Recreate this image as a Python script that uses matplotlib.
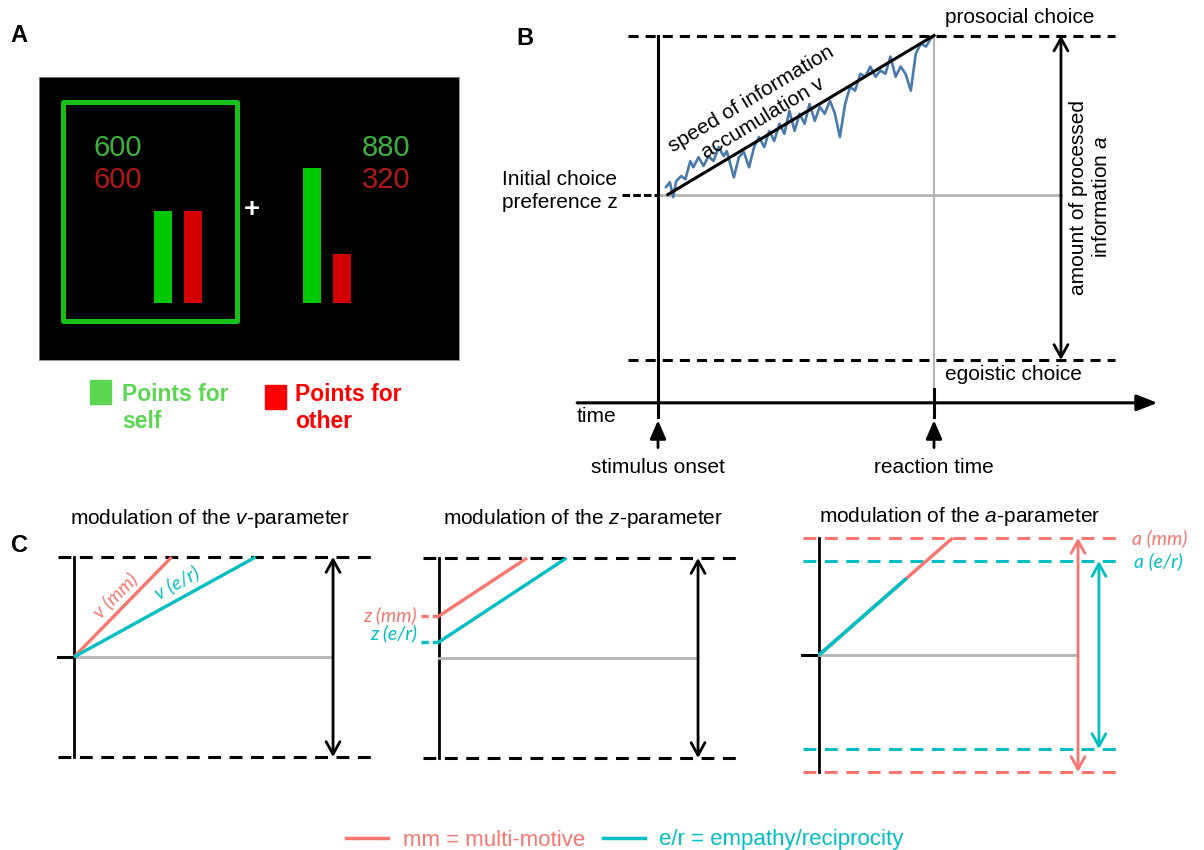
import matplotlib
matplotlib.use("Agg")
import matplotlib.pyplot as plt
from matplotlib.patches import Rectangle
from matplotlib.lines import Line2D

W, H = 1204, 850

plt.rcParams['font.family'] = ['Liberation Sans', 'DejaVu Sans']
plt.rcParams['mathtext.fontset'] = 'custom'
plt.rcParams['mathtext.it'] = 'Liberation Sans:italic'
plt.rcParams['mathtext.rm'] = 'Liberation Sans'

RED = '#F8766D'
CYAN = '#00BFC4'
GREY = '#B4B4B4'
TRACE = '#4A7AAB'

# ---- data ----
# A: points for self / other in the two options
left_option = [600, 600]
right_option = [880, 320]

# B: one accumulation path (% of reaction time, % of boundary a)
trace_t = [2.9, 4.3, 5.5, 6.6, 8.4, 9.9, 11.7, 12.8, 14.7, 16.5,
           18.3, 20.1, 22.0, 23.8, 24.9, 27.5, 29.3, 31.1, 33.0, 34.8,
           36.6, 38.5, 40.3, 42.1, 44.0, 45.8, 47.6, 49.5, 51.3, 53.1,
           54.9, 56.8, 58.6, 60.4, 62.3, 64.1, 65.9, 67.8, 69.6, 71.4,
           73.3, 75.1, 76.9, 78.8, 80.6, 82.4, 84.2, 86.1, 87.9, 89.7,
           91.6, 93.4, 95.2, 97.1, 98.9, 100]
trace_e = [53.3, 54.8, 50.2, 55.1, 56.7, 55.7, 61.3, 59.4, 62.5, 59.8,
           62.8, 61.3, 65.6, 62.8, 64.4, 56.3, 62.5, 64.1, 59.4, 65.6,
           68.7, 65.6, 70.6, 67.5, 72.8, 69.7, 76.8, 70.6, 75.9, 72.8,
           78.9, 73.7, 78.0, 75.9, 79.9, 75.9, 68.7, 78.9, 84.2, 83.0,
           88.2, 87.3, 90.4, 87.3, 89.2, 88.2, 93.5, 87.3, 90.4, 88.2,
           83.0, 94.4, 97.5, 96.6, 99.1, 100]
z_B = 51
rt_B = 100
a_B = 100

# C: parameters per group (mm, e/r); boundary a = 1 unless modulated
v_drift = [1.32, 0.71]
z_start = [0.71, 0.58]
z_drift = 0.85
a_sep = [1.17, 0.94]
a_drift = 1.13
er_stop = 0.34

fig = plt.figure(figsize=(W / 100, H / 100), dpi=100)


def panel(box, origin, scale, off=True):
    # box in pixels (l, t, r, b); origin = pixel of data (0, 0); scale = px per unit
    l, t, r, b = box
    ax = fig.add_axes([l / W, 1 - b / H, (r - l) / W, (b - t) / H])
    ax.set_xlim((l - origin[0]) / scale[0], (r - origin[0]) / scale[0])
    ax.set_ylim((origin[1] - b) / scale[1], (origin[1] - t) / scale[1])
    if off:
        ax.axis('off')
    return ax


def darrow(ax, x, y0, y1, color='k'):
    ax.annotate('', xy=(x, y1), xytext=(x, y0),
                arrowprops=dict(arrowstyle='<->,head_length=0.45,head_width=0.25',
                                lw=2, color=color, shrinkA=0, shrinkB=0,
                                mutation_scale=20))


DASH_B = (0, (3.3, 2.3))
DASH_C = (0, (4.2, 2.8))

# ---------------- A ----------------
axA = panel((39, 77, 459, 360), (39, 303), (1, 0.1533), off=False)
axA.set_facecolor('black')
axA.set_xticks([])
axA.set_yticks([])
for s in axA.spines.values():
    s.set_color('#888888')
    s.set_linewidth(0.6)
axA.bar([124, 153.5], left_option, width=18, color=['#00C800', '#D20000'])
axA.bar([273, 302.5], right_option, width=18, color=['#00C800', '#D20000'])
axA.add_patch(Rectangle((23.5, -117), 174.5, 1429, fill=False,
                        edgecolor='#18C018', lw=3.6, joinstyle='round'))
for xc, vals in [(79, left_option), (347, right_option)]:
    axA.text(xc, 1011, str(vals[0]), color='#3CB43C', fontsize=21,
             ha='center', va='center')
    axA.text(xc, 802, str(vals[1]), color='#B41818', fontsize=21,
             ha='center', va='center')
axA.text(213, 607, '+', color='white', fontsize=20, fontweight='bold',
         ha='center', va='center')

# overlay in pixel units for letters and the A legend
ov = fig.add_axes([0, 0, 1, 1], zorder=-1)
ov.set_xlim(0, W)
ov.set_ylim(H, 0)
ov.axis('off')
for lab, x, y in [('A', 19, 35), ('B', 525, 38), ('C', 19, 546)]:
    ov.text(x, y, lab, fontsize=17, fontweight='bold', ha='center', va='center')
ov.add_patch(Rectangle((90, 380), 21, 24, color='#5CD650'))
ov.add_patch(Rectangle((265, 385), 21, 24, color='#FF0000'))
ov.text(122, 408, 'Points for\nself', color='#5CD650', fontsize=16.5,
        fontweight='bold', va='center', linespacing=1.25)
ov.text(295, 408, 'Points for\nother', color='#FF0000', fontsize=16.5,
        fontweight='bold', va='center', linespacing=1.25)

# ---------------- B ----------------
axB = panel((480, 0, 1204, 490), (658, 360), (2.76, 3.245))
for e in (0, a_B):
    axB.plot([-11, 165.5], [e, e], color='k', lw=2.2, ls=DASH_B, clip_on=False)
axB.plot([-13, 0], [z_B, z_B], color='k', lw=2.2, ls=(0, (2.5, 1)))
axB.plot([0, 146], [z_B, z_B], color=GREY, lw=2)
axB.plot([rt_B, rt_B], [a_B, -10], color=GREY, lw=1.5)
axB.plot([0, 0], [a_B, -17.5], color='k', lw=2.2)
axB.plot([rt_B, rt_B], [-9, -17.5], color='k', lw=2.2)
axB.plot(trace_t, trace_e, color=TRACE, lw=1.9)
axB.plot([3.6, rt_B], [z_B, a_B], color='k', lw=2.2)
axB.annotate('', xy=(181, -13.2), xytext=(-29.3, -13.2),
             arrowprops=dict(arrowstyle='-|>,head_length=0.9,head_width=0.35',
                             lw=2.2, color='k', shrinkA=0, shrinkB=0,
                             mutation_scale=14))
for x in (0, rt_B):
    axB.annotate('', xy=(x, -18.6), xytext=(x, -27),
                 arrowprops=dict(arrowstyle='-|>,head_length=0.8,head_width=0.35',
                                 lw=2, color='k', shrinkA=0, shrinkB=0,
                                 mutation_scale=14))
darrow(axB, 146, 0, a_B)

fsB = 15
axB.text(104, 105.5, 'prosocial choice', fontsize=fsB, va='center')
axB.text(104, -4.5, 'egoistic choice', fontsize=fsB, va='center')
axB.text(-56.5, z_B + 1, 'Initial choice\npreference z', fontsize=fsB,
         va='center', linespacing=1.25)
axB.text(-29.5, -17.5, 'time', fontsize=fsB, va='center')
axB.text(0, -33.2, 'stimulus onset', fontsize=fsB, ha='center', va='center')
axB.text(rt_B, -33.2, 'reaction time', fontsize=fsB, ha='center', va='center')
axB.text(156.5, 50.2, 'amount of processed\ninformation $a$', fontsize=fsB,
         rotation=90, ha='center', va='center', multialignment='center',
         linespacing=1.25)
axB.text(36.0, 77.5, 'speed of information\naccumulation v', fontsize=fsB,
         rotation=31, rotation_mode='anchor', ha='center', va='center',
         multialignment='center', linespacing=1.2)

# ---------------- C ----------------
SC = (258, 200)
lab_font = dict(family=['Lato', 'DejaVu Sans'], style='italic', fontsize=14)
fsT = 15


def c_frame(ax, title, tx):
    for e in (0, 1):
        ax.plot([-0.062, 1.155], [e, e], color='k', lw=2.2, ls=DASH_C,
                clip_on=False)
    ax.plot([0, 0], [0, 1], color='k', lw=2)
    ax.plot([0, 1.0], [0.5, 0.5], color=GREY, lw=2)
    darrow(ax, 1.004, 0, 1)
    ax.text(tx, 1.195, title, fontsize=fsT, ha='center', va='center')


# v panel
ax1 = panel((40, 500, 400, 800), (74, 757), SC)
c_frame(ax1, r'modulation of the $\mathit{v}$-parameter', 0.527)
ax1.plot([-0.062, 0], [0.5, 0.5], color='k', lw=2.2)
for v, c in zip(v_drift, [RED, CYAN]):
    ax1.plot([0, 0.5 / v], [0.5, 1], color=c, lw=2.4, solid_capstyle='butt')
ax1.text(0.159, 0.81, 'v (mm)', color=RED, rotation=45, ha='center',
         va='center', **lab_font)
ax1.text(0.40, 0.87, 'v (e/r)', color=CYAN, rotation=29, ha='center',
         va='center', **lab_font)

# z panel
ax2 = panel((400, 500, 780, 800), (439, 758), SC)
c_frame(ax2, r'modulation of the $\mathit{z}$-parameter', 0.558)
for z, c, lab, ly in zip(z_start, [RED, CYAN], ['z (mm)', 'z (e/r)'],
                         [0.715, 0.626]):
    ax2.plot([-0.07, 0], [z, z], color=c, lw=2.4, ls=(0, (2.2, 1.2)),
             clip_on=False)
    ax2.plot([0, (1 - z) / z_drift], [z, 1], color=c, lw=2.4,
             solid_capstyle='butt')
    ax2.text(-0.085, ly, lab, color=c, ha='right', va='center', **lab_font)

# a panel
ax3 = panel((780, 500, 1204, 800), (819, 755), SC)
ax3.text(0.547, 1.19, r'modulation of the $\mathit{a}$-parameter', fontsize=fsT,
         ha='center', va='center')
for a, c, xe in zip(a_sep, [RED, CYAN], [1.155, 1.167]):
    for e in (0.5 - a / 2, 0.5 + a / 2):
        ax3.plot([-0.062, xe], [e, e], color=c, lw=2.2, ls=DASH_C,
                 clip_on=False)
ax3.plot([0, 0], [0.5 - a_sep[0] / 2, 0.5 + a_sep[0] / 2], color='k', lw=2)
ax3.plot([-0.066, 0], [0.5, 0.5], color='k', lw=2.2)
ax3.plot([0, 1.0], [0.5, 0.5], color=GREY, lw=2)
ax3.plot([0, a_sep[0] / 2 / a_drift], [0.5, 0.5 + a_sep[0] / 2], color=RED,
         lw=2.4, solid_capstyle='butt')
ax3.plot([0, er_stop], [0.5, 0.5 + a_drift * er_stop], color=CYAN, lw=2.6,
         solid_capstyle='butt')
darrow(ax3, 1.004, 0.5 - a_sep[0] / 2, 0.5 + a_sep[0] / 2, RED)
darrow(ax3, 1.085, 0.5 - a_sep[1] / 2, 0.5 + a_sep[1] / 2, CYAN)
ax3.text(1.215, 0.5 + a_sep[0] / 2, 'a (mm)', color=RED, va='center', **lab_font)
ax3.text(1.222, 0.5 + a_sep[1] / 2, 'a (e/r)', color=CYAN, va='center', **lab_font)

# bottom legend
handles = [Line2D([], [], color=RED, lw=2.5), Line2D([], [], color=CYAN, lw=2.5)]
fig.legend(handles, ['mm = multi-motive', 'e/r = empathy/reciprocity'],
           loc='center', bbox_to_anchor=(625 / W, 1 - 840 / H), ncol=2,
           frameon=False, fontsize=16, handlelength=1.9, handletextpad=0.65,
           columnspacing=0.8, labelcolor=[RED, CYAN])

fig.savefig('out.png', dpi=100)
